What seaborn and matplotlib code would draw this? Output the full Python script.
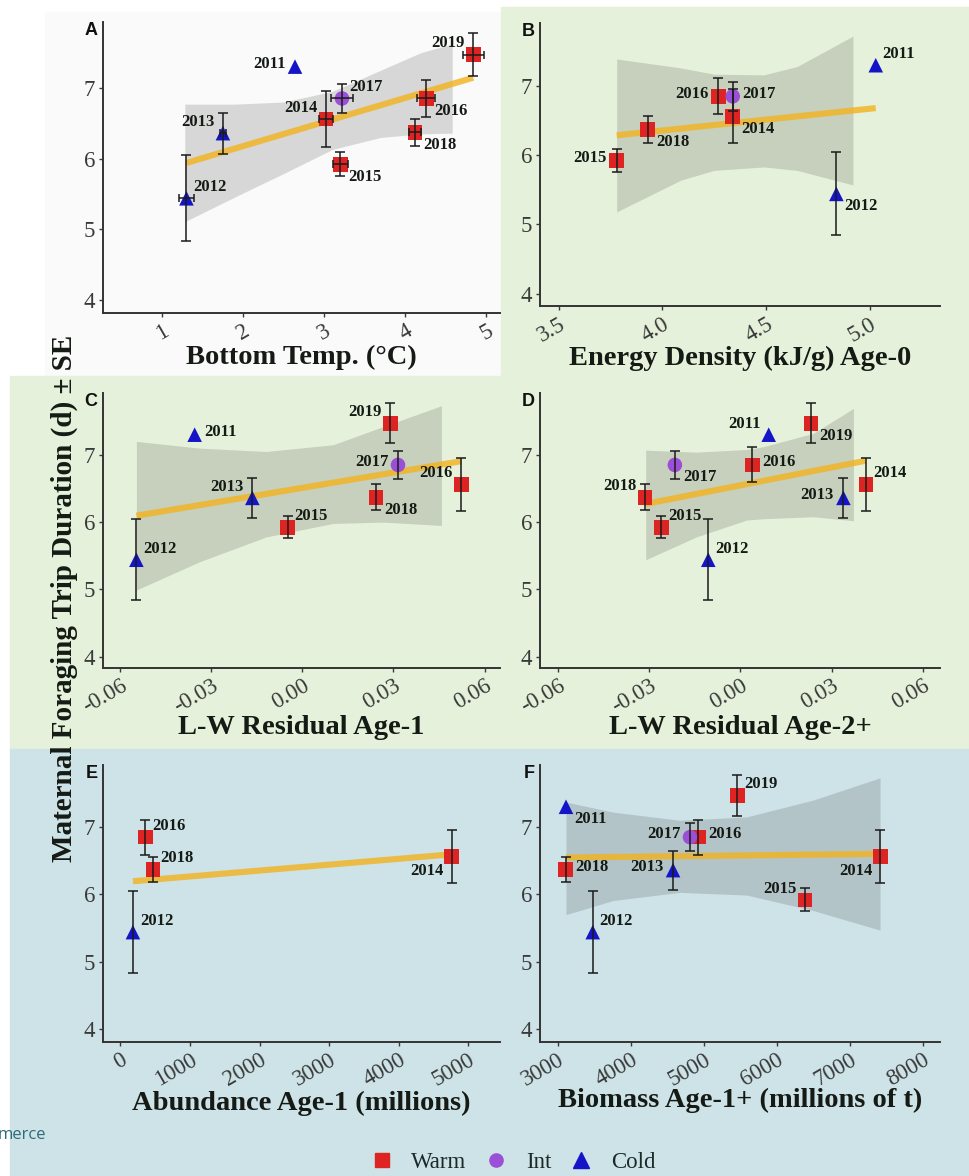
"""
Foraging trip duration vs. environmental / prey covariates (six panels).
"""

import numpy as np
import pandas as pd
import matplotlib
matplotlib.use("Agg")
import matplotlib.pyplot as plt
from matplotlib.lines import Line2D
from matplotlib.patches import Rectangle
import seaborn as sns

# ---- values ----
years = [2011, 2012, 2013, 2014, 2015, 2016, 2017, 2018, 2019]
groups = ["Cold", "Cold", "Cold", "Warm", "Warm", "Warm", "Int", "Warm", "Warm"]
trip_mean = [7.30, 5.44, 6.36, 6.56, 5.92, 6.85, 6.85, 6.37, 7.47]
trip_lo = [np.nan, 4.84, 6.06, 6.17, 5.76, 6.59, 6.64, 6.18, 7.17]
trip_hi = [np.nan, 6.05, 6.65, 6.95, 6.09, 7.11, 7.06, 6.56, 7.77]

temp_years = [2011, 2012, 2013, 2014, 2015, 2016, 2017, 2018, 2019]
bottom_temp = [2.64, 1.30, 1.75, 3.02, 3.20, 4.26, 3.22, 4.12, 4.84]
bottom_temp_se = [np.nan, 0.09, 0.04, 0.09, 0.09, 0.11, 0.13, 0.07, 0.13]
temp_band_x = [1.28, 1.90, 2.50, 3.10, 3.70, 4.20, 4.58]
temp_band_lo = [5.11, 5.46, 5.79, 6.13, 6.30, 6.35, 6.36]
temp_band_hi = [6.77, 6.77, 6.80, 6.95, 7.25, 7.50, 7.62]

energy_years = [2011, 2012, 2014, 2015, 2016, 2017, 2018]
energy_density = [5.03, 4.84, 4.34, 3.78, 4.27, 4.34, 3.93]
energy_band_x = [3.78, 4.09, 4.25, 4.49, 4.65, 4.92]
energy_band_lo = [5.18, 5.64, 5.78, 5.83, 5.78, 5.57]
energy_band_hi = [7.39, 7.26, 7.17, 7.16, 7.28, 7.72]

lw1_years = [2011, 2012, 2013, 2014, 2015, 2017, 2018, 2019]
lw1_labels = ["2011", "2012", "2013", "2016", "2015", "2017", "2018", "2019"]
lw1_resid = [-0.0355, -0.0547, -0.0165, 0.0524, -0.0049, 0.0315, 0.0243, 0.0290]
lw1_band_x = [-0.0547, -0.0339, -0.0119, 0.0101, 0.0266, 0.0458]
lw1_band_lo = [4.99, 5.41, 5.78, 5.98, 6.00, 5.95]
lw1_band_hi = [7.20, 7.10, 7.05, 7.15, 7.42, 7.73]

lw2_years = [2011, 2012, 2013, 2014, 2015, 2016, 2017, 2018, 2019]
lw2_resid = [0.0093, -0.0106, 0.0339, 0.0413, -0.0260, 0.0039, -0.0216, -0.0314, 0.0232]
lw2_band_x = [-0.0312, -0.0145, 0.0020, 0.0075, 0.0240, 0.0372]
lw2_band_lo = [5.44, 5.78, 6.03, 6.05, 6.08, 6.02]
lw2_band_hi = [7.07, 7.04, 7.08, 7.12, 7.32, 7.69]

abund_years = [2012, 2014, 2016, 2018]
abundance = [180, 4760, 360, 470]

biomass_years = [2011, 2012, 2013, 2014, 2015, 2016, 2017, 2018, 2019]
biomass = [3114, 3480, 4580, 7420, 6390, 4925, 4812, 3110, 5460]
biomass_band_x = [3114, 3762, 4675, 5589, 6501, 7415]
biomass_band_lo = [5.70, 5.91, 6.03, 5.99, 5.76, 5.47]
biomass_band_hi = [7.37, 7.22, 7.10, 7.15, 7.40, 7.73]

temp_ticks = [1, 2, 3, 4, 5]
temp_ticklabels = ["1", "2", "3", "4", "5"]
energy_ticks = [3.5, 4.0, 4.5, 5.0]
energy_ticklabels = ["3.5", "4.0", "4.5", "5.0"]
lw_ticks = [-0.06, -0.03, 0.0, 0.03, 0.06]
lw_ticklabels = ["-0.06", "-0.03", "0.00", "0.03", "0.06"]
abund_ticks = [0, 1000, 2000, 3000, 4000, 5000]
abund_ticklabels = ["0", "1000", "2000", "3000", "4000", "5000"]
biomass_ticks = [3000, 4000, 5000, 6000, 7000, 8000]
biomass_ticklabels = ["3000", "4000", "5000", "6000", "7000", "8000"]
y_ticks = [4, 5, 6, 7]

# ---- styling ----
PALETTE = {"Warm": "#de2323", "Int": "#9a4fd6", "Cold": "#1515c8"}
MARKERS = {"Warm": "s", "Int": "o", "Cold": "^"}
LINE_COLOR = "#f2b21c"
BAND_COLOR = "#3a3a3a"
GREEN = "#e5f1da"
BLUE = "#cde3e7"
INK = "#151a15"

# label placement around a point: (dx, dy, ha) in points
PLACE = {
    "ne": (5, 8, "left"), "se": (6, -9, "left"),
    "nw": (-6, 8, "right"), "sw": (-6, -10, "right"),
    "e": (7, 2, "left"), "w": (-7, 2, "right"),
}

W, H = 969, 1176


def fig_rect(left, top, right, bottom):
    return [left / W, 1 - bottom / H, (right - left) / W, (bottom - top) / H]


def draw_panel(fig, p):
    ax = fig.add_axes(p["rect"])
    ax.set_facecolor("none")
    ylookup = dict(zip(years, trip_mean))
    lolookup = dict(zip(years, trip_lo))
    hilookup = dict(zip(years, trip_hi))
    glookup = dict(zip(years, groups))
    df = pd.DataFrame({
        "year": p["years"],
        "label": p.get("labels", [str(y) for y in p["years"]]),
        "x": p["x"],
    })
    df["y"] = df["year"].map(ylookup)
    df["lo"] = df["year"].map(lolookup)
    df["hi"] = df["year"].map(hilookup)
    df["group"] = df["year"].map(glookup)

    if p.get("band") is not None:
        bx, blo, bhi = p["band"]
        ax.fill_between(bx, blo, bhi, color=BAND_COLOR, alpha=0.18,
                        linewidth=0, zorder=1)

    sns.regplot(data=df, x="x", y="y", scatter=False, ci=None, truncate=True,
                ax=ax, line_kws=dict(color=LINE_COLOR, lw=4.4, alpha=0.8,
                                     solid_capstyle="butt", zorder=2))

    sns.scatterplot(data=df, x="x", y="y", hue="group", style="group",
                    palette=PALETTE, markers=MARKERS, s=110, linewidth=0,
                    legend=False, ax=ax, zorder=4)

    ok = df["lo"].notna()
    d = df[ok]
    ax.errorbar(d["x"], d["y"], yerr=[d["y"] - d["lo"], d["hi"] - d["y"]],
                fmt="none", ecolor="#1a1a1a", elinewidth=1.1, capsize=3.5,
                capthick=1.1, zorder=5)
    if p.get("xerr") is not None:
        xe = pd.Series(p["xerr"])
        m = xe.notna().values
        ax.errorbar(df["x"][m], df["y"][m], xerr=xe[m].values, fmt="none",
                    ecolor="#1a1a1a", elinewidth=1.1, capsize=3.0,
                    capthick=1.1, zorder=5)

    for _, r in df.iterrows():
        dx, dy, ha = PLACE[p["place"][r["year"]]]
        ax.annotate(r["label"], (r["x"], r["y"]), xytext=(dx, dy),
                    textcoords="offset points", ha=ha, va="center",
                    fontsize=12, fontweight="bold", color=INK, zorder=6)

    ax.set_xlim(p["xlim"])
    ax.set_ylim(p["ylim"])
    ax.set_yticks(y_ticks)
    ax.set_yticklabels([str(t) for t in y_ticks])
    ax.set_xticks(p["ticks"])
    ax.set_xticklabels(p["ticklabels"], rotation=30, ha="right",
                       rotation_mode="anchor")
    ax.tick_params(axis="both", length=3, width=1, pad=2.5, colors="#3a3a3a",
                   labelsize=16.5)
    for side in ["top", "right"]:
        ax.spines[side].set_visible(False)
    for side in ["left", "bottom"]:
        ax.spines[side].set_color("#333333")
        ax.spines[side].set_linewidth(1.4)
    ax.set_ylabel("")
    ax.set_xlabel(p["xlabel"], fontsize=20.5, fontweight="bold", color=INK)
    ax.xaxis.set_label_coords(0.5, p["label_y"])
    ax.text(-0.014, 1.0, p["letter"], transform=ax.transAxes, ha="right",
            va="top", fontsize=13, fontweight="bold", color="#111111",
            family=["Liberation Sans", "DejaVu Sans"])
    return ax


def main():
    sns.set_theme(style="ticks")
    plt.rcParams["font.family"] = ["Liberation Serif", "DejaVu Serif"]

    fig = plt.figure(figsize=(W / 100, H / 100), dpi=100)
    fig.patch.set_facecolor("white")

    # screenshot background blocks, kept behind the axes
    blocks = [
        ((45, 12, 501, 376), "#fafafa"),
        ((501, 7, 969, 376), GREEN),
        ((10, 376, 969, 749), GREEN),
        ((10, 749, 969, 1176), BLUE),
    ]
    for (l, t, r, b), c in blocks:
        fig.patches.append(Rectangle((l / W, 1 - b / H), (r - l) / W, (b - t) / H,
                                     transform=fig.transFigure, color=c,
                                     zorder=-10))

    panels = [
        dict(letter="A", rect=fig_rect(103, 22, 500, 313), years=temp_years,
             x=bottom_temp, xerr=bottom_temp_se,
             band=(temp_band_x, temp_band_lo, temp_band_hi),
             place={2011: "w", 2012: "ne", 2013: "nw", 2014: "nw", 2015: "se",
                    2016: "se", 2017: "ne", 2018: "se", 2019: "nw"},
             ticks=temp_ticks, ticklabels=temp_ticklabels, xlim=(0.27, 5.17),
             ylim=(3.82, 7.93), xlabel="Bottom Temp. (°C)", label_y=-0.11),
        dict(letter="B", rect=fig_rect(540, 23, 940, 306), years=energy_years,
             x=energy_density,
             band=(energy_band_x, energy_band_lo, energy_band_hi),
             place={2011: "ne", 2012: "se", 2014: "se", 2015: "w", 2016: "w",
                    2017: "e", 2018: "se"},
             ticks=energy_ticks, ticklabels=energy_ticklabels, xlim=(3.41, 5.34),
             ylim=(3.82, 7.91), xlabel="Energy Density (kJ/g) Age-0",
             label_y=-0.14),
        dict(letter="C", rect=fig_rect(103, 393, 500, 668), years=lw1_years,
             labels=lw1_labels, x=lw1_resid,
             band=(lw1_band_x, lw1_band_lo, lw1_band_hi),
             place={2011: "e", 2012: "ne", 2013: "nw", 2014: "nw", 2015: "ne",
                    2017: "w", 2018: "se", 2019: "nw"},
             ticks=lw_ticks, ticklabels=lw_ticklabels, xlim=(-0.0657, 0.0651),
             ylim=(3.83, 7.92), xlabel="L-W Residual Age-1", label_y=-0.172),
        dict(letter="D", rect=fig_rect(540, 393, 940, 668), years=lw2_years,
             x=lw2_resid, band=(lw2_band_x, lw2_band_lo, lw2_band_hi),
             place={2011: "nw", 2012: "ne", 2013: "w", 2014: "ne", 2015: "ne",
                    2016: "e", 2017: "se", 2018: "nw", 2019: "se"},
             ticks=lw_ticks, ticklabels=lw_ticklabels, xlim=(-0.066, 0.0657),
             ylim=(3.83, 7.92), xlabel="L-W Residual Age-2+", label_y=-0.172),
        dict(letter="E", rect=fig_rect(103, 765, 500, 1042), years=abund_years,
             x=abundance, band=None,
             place={2012: "ne", 2014: "sw", 2016: "ne", 2018: "ne"},
             ticks=abund_ticks, ticklabels=abund_ticklabels, xlim=(-250, 5456),
             ylim=(3.81, 7.92), xlabel="Abundance Age-1 (millions)",
             label_y=-0.175),
        dict(letter="F", rect=fig_rect(540, 765, 940, 1042), years=biomass_years,
             x=biomass, band=(biomass_band_x, biomass_band_lo, biomass_band_hi),
             place={2011: "se", 2012: "ne", 2013: "w", 2014: "sw", 2015: "nw",
                    2016: "e", 2017: "w", 2018: "e", 2019: "ne"},
             ticks=biomass_ticks, ticklabels=biomass_ticklabels,
             xlim=(2758, 8236), ylim=(3.81, 7.92),
             xlabel="Biomass Age-1+ (millions of t)", label_y=-0.167),
    ]

    for p in panels:
        draw_panel(fig, p)

    fig.text(64 / W, 1 - 598 / H, "Maternal Foraging Trip Duration (d) ± SE",
             rotation=90, ha="center", va="center", fontsize=21,
             fontweight="bold", color=INK)

    handles = [
        Line2D([], [], marker=MARKERS[g], color=PALETTE[g], linestyle="none",
               markersize={"Warm": 10, "Int": 9.5, "Cold": 12}[g])
        for g in ["Warm", "Int", "Cold"]
    ]
    fig.legend(handles, ["Warm", "Int", "Cold"], loc="center",
               bbox_to_anchor=(514 / W, 1 - 1162 / H), ncol=3, frameon=False,
               fontsize=16.5, handletextpad=0.9, columnspacing=0.9,
               handlelength=0.8, labelcolor="#1c2a2a")

    fig.text(-2 / W, 1 - 1135 / H, "merce", ha="left", va="center",
             fontsize=12, color="#2e6b78", family=["Open Sans", "DejaVu Sans"])

    fig.savefig("out.png", dpi=100)
    plt.close(fig)


if __name__ == "__main__":
    main()
